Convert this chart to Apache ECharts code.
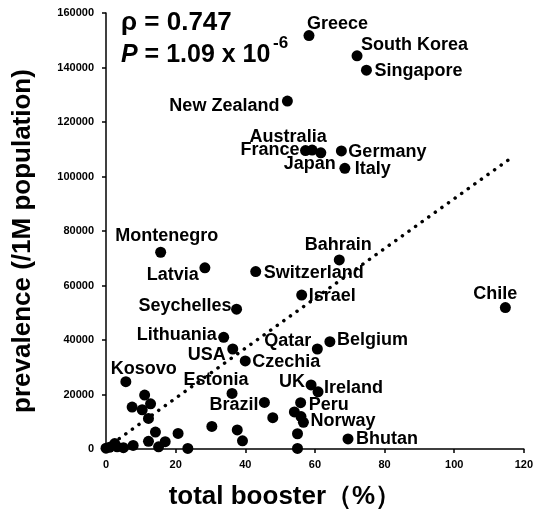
<!DOCTYPE html>
<html><head><meta charset="utf-8">
<script src="https://cdn.jsdelivr.net/npm/echarts@6/dist/echarts.min.js"></script>
<style>html,body{margin:0;padding:0;background:#fff}#c{width:536px;height:524px}</style>
</head><body><div id="c"></div>
<script>
// labelled countries
const countries = ['Greece','South Korea','Singapore','New Zealand','Australia','France','Japan','Germany','Italy','Montenegro','Latvia','Switzerland','Bahrain','Israel','Seychelles','Chile','Lithuania','USA','Czechia','Qatar','Belgium','Kosovo','Estonia','UK','Ireland','Brazil','Peru','Norway','Bhutan'];
const boosterPct = [58.3,72.1,74.8,52.1,59.2,57.3,61.7,67.6,68.6,15.7,28.4,43.0,67.0,56.2,37.5,114.7,33.8,36.4,40.0,60.7,64.3,5.7,36.2,58.9,60.9,45.5,55.9,56.7,69.5];
const prevalence = [151700,144300,139000,127700,109700,109500,108700,109400,103000,72200,66500,65100,69400,56500,51300,51900,41000,36700,32300,36700,39400,24700,20400,23500,21000,17100,17000,9800,3700];
// unlabelled countries
const otherBooster = [0,1,2.5,3.2,5,7.8,7.5,10.4,11.1,12.8,12.2,14.2,12.2,15.1,17,20.7,23.5,30.4,37.7,39.2,47.9,54.1,55,55,56];
const otherPrev = [300,600,2000,800,500,1300,15400,14400,19800,16600,11200,6200,2800,800,2700,5700,200,8300,7000,3000,11500,13600,5600,200,11900];
// regression line end points
const trendBooster = [0, 116.5];
const trendPrev = [350, 106950];

// label placement (align, dx, dy) — styling only
const labelLayout = {
  'Greece':['left',-2,-12],'South Korea':['left',4,-11],'Singapore':['left',8,1],'New Zealand':['right',-8,5],
  'Australia':['center',-24,-13],'France':['right',-6,-1],'Japan':['center',-11,11],'Germany':['left',7,1],'Italy':['left',10,1],
  'Montenegro':['center',6,-16],'Latvia':['right',-6,7],'Switzerland':['left',8,1],'Bahrain':['center',-1,-15],'Israel':['left',7,1],
  'Seychelles':['right',-5,-3],'Chile':['center',-10,-14],'Lithuania':['right',-7,-2],'USA':['right',-7,6],'Czechia':['left',7,1],
  'Qatar':['right',-6,-8],'Belgium':['left',7,-2],'Kosovo':['center',18,-13],'Estonia':['center',-16,-13],'UK':['right',-6,-3],
  'Ireland':['left',6,-4],'Brazil':['right',-6,3],'Peru':['left',8,2],'Norway':['left',7,-1],'Bhutan':['left',8,0]
};

const FONT = '"Liberation Sans", Arial, sans-serif';
const SYM = 11;
const labelled = countries.map((n,i)=>{
  const L = labelLayout[n];
  return {name:n, value:[boosterPct[i], prevalence[i]],
    label:{show:true, position:[SYM/2 + L[1], SYM/2 + L[2]], align:L[0], verticalAlign:'middle', formatter:n,
      color:'#000', fontWeight:'bold', fontSize:18, fontFamily:FONT}};
});
const others = otherBooster.map((x,i)=>[x, otherPrev[i]]);

const chart = echarts.init(document.getElementById('c'), null, {renderer:'canvas'});
chart.setOption({
  animation:false,
  backgroundColor:'#fff',
  grid:{left:106, right:10, top:13, bottom:75, containLabel:false},
  xAxis:{type:'value', min:0, max:120, interval:20,
    name:'total booster（%）', nameLocation:'middle', nameGap:35,
    nameTextStyle:{color:'#000', fontWeight:'bold', fontSize:26, fontFamily:FONT, padding:[0,60,0,0]},
    axisLine:{show:true, lineStyle:{color:'#000', width:1.5}},
    axisTick:{show:true, inside:false, length:4, lineStyle:{color:'#000', width:1.5}},
    axisLabel:{color:'#000', fontWeight:'bold', fontSize:11, fontFamily:FONT, margin:10, formatter:v=>String(v)},
    splitLine:{show:false}},
  yAxis:{type:'value', min:0, max:160000, interval:20000,
    name:'prevalence (/1M population)', nameLocation:'middle', nameGap:70, nameRotate:90,
    nameTextStyle:{color:'#000', fontWeight:'bold', fontSize:26, fontFamily:FONT, padding:[0,20,0,0]},
    axisLine:{show:true, lineStyle:{color:'#000', width:1.5}},
    axisTick:{show:true, inside:false, length:4, lineStyle:{color:'#000', width:1.5}},
    axisLabel:{color:'#000', fontWeight:'bold', fontSize:11, fontFamily:FONT, margin:12, formatter:v=>String(v)},
    splitLine:{show:false}},
  graphic:[
    {type:'text', left:121, top:10, z:10, style:{text:'ρ = 0.747', fill:'#000', font:'bold 26px '+FONT}},
    {type:'text', left:121, top:43, z:10, style:{text:'{i|P} = 1.09 x 10', fill:'#000', font:'bold 25px '+FONT,
      rich:{i:{fontStyle:'italic', fontWeight:'bold', fontSize:25, fontFamily:FONT, fill:'#000'}}}},
    {type:'text', left:273, top:35, z:10, style:{text:'-6', fill:'#000', font:'bold 17px '+FONT}}
  ],
  series:[
    {type:'scatter', z:2, symbol:'circle', symbolSize:SYM, itemStyle:{color:'#000', opacity:1}, data:others, silent:true},
    {type:'scatter', z:2, symbol:'circle', symbolSize:SYM, itemStyle:{color:'#000', opacity:1}, data:labelled, silent:true},
    {type:'line', z:3, showSymbol:false, silent:true,
      data:trendBooster.map((x,i)=>[x, trendPrev[i]]),
      lineStyle:{color:'#000', width:3.5, type:[0.1, 8], cap:'round'}}
  ]
});
</script></body></html>
